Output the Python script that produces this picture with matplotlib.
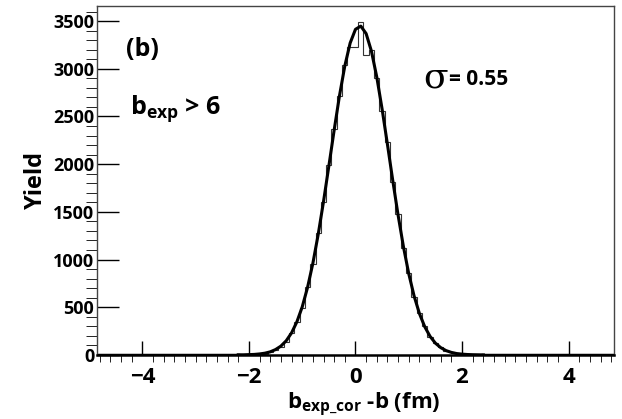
import numpy as np
import matplotlib
matplotlib.use("Agg")
import matplotlib.pyplot as plt
from matplotlib.ticker import MultipleLocator

plt.rcParams['font.family'] = ['Open Sans', 'DejaVu Sans']
plt.rcParams['mathtext.fontset'] = 'custom'
plt.rcParams['mathtext.bf'] = 'Open Sans:bold'

# histogram bins (width 0.1, centred on multiples of 0.1)
bin_centers = np.round(np.arange(-20, 23) * 0.1, 2)
counts = [0, 2, 6, 14, 28, 50, 85, 140, 225, 350, 495, 715, 950, 1280, 1600,
          1990, 2370, 2720, 3040, 3230, 3230, 3490, 3150, 3200, 2900, 2560,
          2230, 1810, 1480, 1120, 860, 610, 440, 300, 190, 125, 80, 45, 30,
          15, 10, 5, 2]

# fitted curve
fit_x = np.round(np.arange(-22, 25) * 0.1, 2)
fit_y = [1, 1, 3, 5, 10, 18, 32, 56, 92, 148, 230, 346, 502, 706, 959, 1262,
         1607, 1979, 2357, 2718, 3030, 3270, 3414, 3448, 3369, 3184, 2913,
         2577, 2207, 1828, 1465, 1135, 851, 618, 434, 295, 194, 123, 76, 45,
         26, 14, 8, 4, 2, 1, 0]

fig = plt.figure(figsize=(6.22, 4.19), dpi=100)
ax = fig.add_axes([0.156, 0.153, 0.831, 0.833])

edges = np.append(bin_centers - 0.05, bin_centers[-1] + 0.05)
ax.stairs(counts, edges, color='#333333', lw=0.8)
ax.plot(fit_x, fit_y, color='black', lw=2.2)
ax.plot([-4.85, -2.2], [0, 0], color='black', lw=2.5)
ax.plot([2.4, 4.85], [0, 0], color='black', lw=2.5)

ax.set_xlim(-4.85, 4.85)
ax.set_ylim(0, 3660)

ax.xaxis.set_major_locator(MultipleLocator(2))
ax.xaxis.set_minor_locator(MultipleLocator(0.2))
ax.yaxis.set_major_locator(MultipleLocator(500))
ax.yaxis.set_minor_locator(MultipleLocator(100))
ax.tick_params(direction='in', top=False, right=False, width=1)
ax.tick_params(axis='x', which='major', length=10, labelsize=16, pad=9)
ax.tick_params(axis='x', which='minor', length=5)
ax.tick_params(axis='y', which='major', length=16, labelsize=13, pad=2)
ax.tick_params(axis='y', which='minor', length=8)
for lab in ax.get_xticklabels() + ax.get_yticklabels():
    lab.set_fontweight('bold')

fig.canvas.draw()
ylabels = ax.get_yticklabels()
ylabels[0].set_fontsize(10)

for s in ax.spines.values():
    s.set_linewidth(1.0)
    s.set_color('#444444')
ax.spines['bottom'].set_linewidth(1.8)
ax.spines['bottom'].set_color('black')

fig.text(0.585, 0.0, r'b$_{\mathbf{exp\_cor}}$ -b (fm)', fontsize=16, fontweight='bold', ha='center', va='bottom')
ax.set_ylabel('Yield', fontsize=17, fontweight='bold', labelpad=4)

ax.text(0.056, 0.855, '(b)', transform=ax.transAxes, fontsize=18, fontweight='bold')
ax.text(0.064, 0.69, r'b$_{\mathbf{exp}}$ > 6', transform=ax.transAxes, fontsize=18, fontweight='bold')
ax.text(0.632, 0.765, 'σ', transform=ax.transAxes, fontsize=26, family='DejaVu Serif')
ax.text(0.68, 0.772, '= 0.55', transform=ax.transAxes, fontsize=15, fontweight='bold')

fig.savefig('out.png', dpi=100)
